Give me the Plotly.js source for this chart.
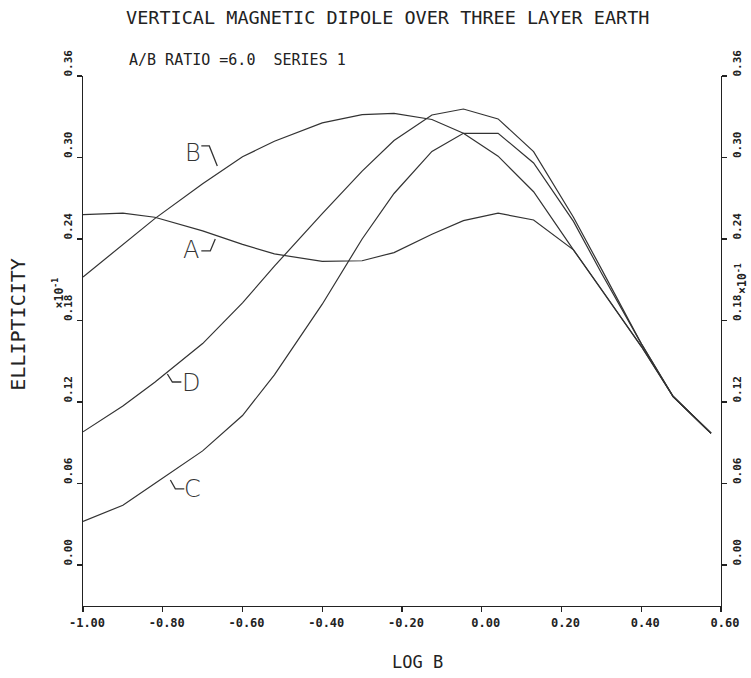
<!DOCTYPE html>
<html>
<head>
<meta charset="utf-8">
<script src="https://cdn.plot.ly/plotly-3.0.1.min.js"></script>
<style>html,body{margin:0;padding:0;background:#fff;}#chart{width:751px;height:678px;}</style>
</head>
<body>
<div id="chart"></div>
<script>
// log B sample positions
var logB = [-1.00, -0.90, -0.82, -0.70, -0.60, -0.52, -0.40, -0.30, -0.22, -0.125, -0.046, 0.041, 0.13, 0.23, 0.30, 0.40, 0.48, 0.575];
// ellipticity (x10^-1) for the four models
var curveA = [0.258, 0.259, 0.256, 0.246, 0.236, 0.229, 0.2235, 0.224, 0.230, 0.2435, 0.2535, 0.259, 0.254, 0.232, 0.203, 0.161, 0.124, 0.097];
var curveB = [0.212, 0.236, 0.255, 0.2807, 0.3005, 0.312, 0.3255, 0.3315, 0.3325, 0.328, 0.3178, 0.301, 0.2748, 0.232, 0.203, 0.161, 0.124, 0.097];
var curveC = [0.032, 0.044, 0.060, 0.084, 0.110, 0.140, 0.192, 0.240, 0.2735, 0.3045, 0.3178, 0.3178, 0.296, 0.253, 0.215, 0.163, 0.124, 0.097];
var curveD = [0.098, 0.117, 0.1345, 0.163, 0.193, 0.220, 0.2587, 0.290, 0.3125, 0.3313, 0.3357, 0.3284, 0.3043, 0.256, 0.218, 0.163, 0.124, 0.097];
var curveNames = ['A', 'B', 'C', 'D'];

var xTickVals = [-1.0, -0.8, -0.6, -0.4, -0.2, 0.0, 0.2, 0.4, 0.6];
var xTickText = ['-1.00', '-0.80', '-0.60', '-0.40', '-0.20', '0.00', '0.20', '0.40', '0.60'];
var yTickVals = [0.00, 0.06, 0.12, 0.18, 0.24, 0.30, 0.36];
var yTickText = ['0.00', '0.06', '0.12', '0.18', '0.24', '0.30', '0.36'];

var lineStyle = {color: '#333333', width: 1.2};
var series = [curveA, curveB, curveC, curveD];
var traces = series.map(function (s, i) {
  return {x: logB, y: s, name: curveNames[i], type: 'scatter', mode: 'lines',
          line: lineStyle, hoverinfo: 'skip'};
});
traces.push({x: [], y: [], yaxis: 'y2', type: 'scatter', mode: 'lines', showlegend: false});

var mono = 'DejaVu Sans Mono, Liberation Mono, monospace';
var yTickFont = {family: mono, size: 11, color: '#222', weight: 'bold'};
var xTickFont = {family: mono, size: 12, color: '#222', weight: 'bold'};
var yRange = [-0.0302, 0.36];

var yCommon = {
  range: yRange, tickvals: yTickVals, ticktext: yTickText, tickangle: -90,
  ticks: 'outside', ticklen: 5, tickwidth: 1.2, tickcolor: '#222',
  showline: true, linecolor: '#222', linewidth: 1.3, showgrid: false, zeroline: false,
  tickfont: yTickFont, ticklabelshift: -11, fixedrange: true
};

var multFont = {family: mono, size: 11.5, color: '#222', weight: 'bold'};
var letterFont = {family: 'DejaVu Sans', size: 24, color: '#333', weight: 200};

var layout = {
  width: 751, height: 678,
  margin: {l: 82.5, r: 29.5, t: 76, b: 72},
  paper_bgcolor: '#fff', plot_bgcolor: '#fff',
  showlegend: false,
  xaxis: {
    range: [-1.0, 0.6], tickvals: xTickVals, ticktext: xTickText,
    ticks: 'outside', ticklen: 5, tickwidth: 1.2, tickcolor: '#222',
    showline: true, linecolor: '#222', linewidth: 1.3, showgrid: false, zeroline: false,
    tickfont: xTickFont, ticklabelshift: 4, tickangle: 0, fixedrange: true
  },
  yaxis: Object.assign({side: 'left'}, yCommon),
  yaxis2: Object.assign({side: 'right', overlaying: 'y'}, yCommon),
  annotations: [
    {text: 'VERTICAL MAGNETIC DIPOLE OVER THREE LAYER EARTH', xref: 'paper', yref: 'paper',
     x: 0.478, y: 1.111, xanchor: 'center', yanchor: 'middle', showarrow: false,
     font: {family: mono, size: 18.5, color: '#222'}},
    {text: 'A/B RATIO =6.0  SERIES 1', xref: 'paper', yref: 'paper',
     x: 0.0696, y: 1.0302, xanchor: 'left', yanchor: 'middle', showarrow: false,
     font: {family: mono, size: 15, color: '#222'}},
    {text: 'ELLIPTICITY', xref: 'paper', yref: 'paper', textangle: -90,
     x: -0.101, y: 0.53, xanchor: 'center', yanchor: 'middle', showarrow: false,
     font: {family: mono, size: 20, color: '#222'}},
    {text: 'LOG B', xref: 'paper', yref: 'paper',
     x: 0.525, y: -0.1057, xanchor: 'center', yanchor: 'middle', showarrow: false,
     font: {family: mono, size: 17, color: '#222'}},
    {text: '\u00d710<sup>-1</sup>', xref: 'paper', yref: 'paper', textangle: -90,
     x: -0.039, y: 0.59, xanchor: 'center', yanchor: 'middle', showarrow: false,
     font: multFont},
    {text: '\u00d710<sup>-1</sup>', xref: 'paper', yref: 'paper', textangle: -90,
     x: 1.032, y: 0.618, xanchor: 'center', yanchor: 'middle', showarrow: false,
     font: multFont},
    {text: 'B', x: -0.723, y: 0.3033, xref: 'x', yref: 'y', showarrow: false, font: letterFont},
    {text: 'A', x: -0.728, y: 0.2319, xref: 'x', yref: 'y', showarrow: false, font: letterFont},
    {text: 'D', x: -0.728, y: 0.134, xref: 'x', yref: 'y', showarrow: false, font: letterFont},
    {text: 'C', x: -0.726, y: 0.056, xref: 'x', yref: 'y', showarrow: false, font: letterFont}
  ],
  shapes: [
    {type: 'path', xref: 'x', yref: 'y', path: 'M -0.7033 0.3085 L -0.6833 0.3085 L -0.6632 0.2937', line: {color: '#333', width: 1.3}},
    {type: 'path', xref: 'x', yref: 'y', path: 'M -0.7033 0.2312 L -0.6808 0.2312 L -0.6683 0.2400', line: {color: '#333', width: 1.3}},
    {type: 'path', xref: 'x', yref: 'y', path: 'M -0.7884 0.1406 L -0.7759 0.1347 L -0.7534 0.1347', line: {color: '#333', width: 1.3}},
    {type: 'path', xref: 'x', yref: 'y', path: 'M -0.7809 0.0626 L -0.7684 0.0560 L -0.7459 0.0560', line: {color: '#333', width: 1.3}}
  ]
};

Plotly.newPlot('chart', traces, layout, {staticPlot: true, displayModeBar: false});
</script>
</body>
</html>
